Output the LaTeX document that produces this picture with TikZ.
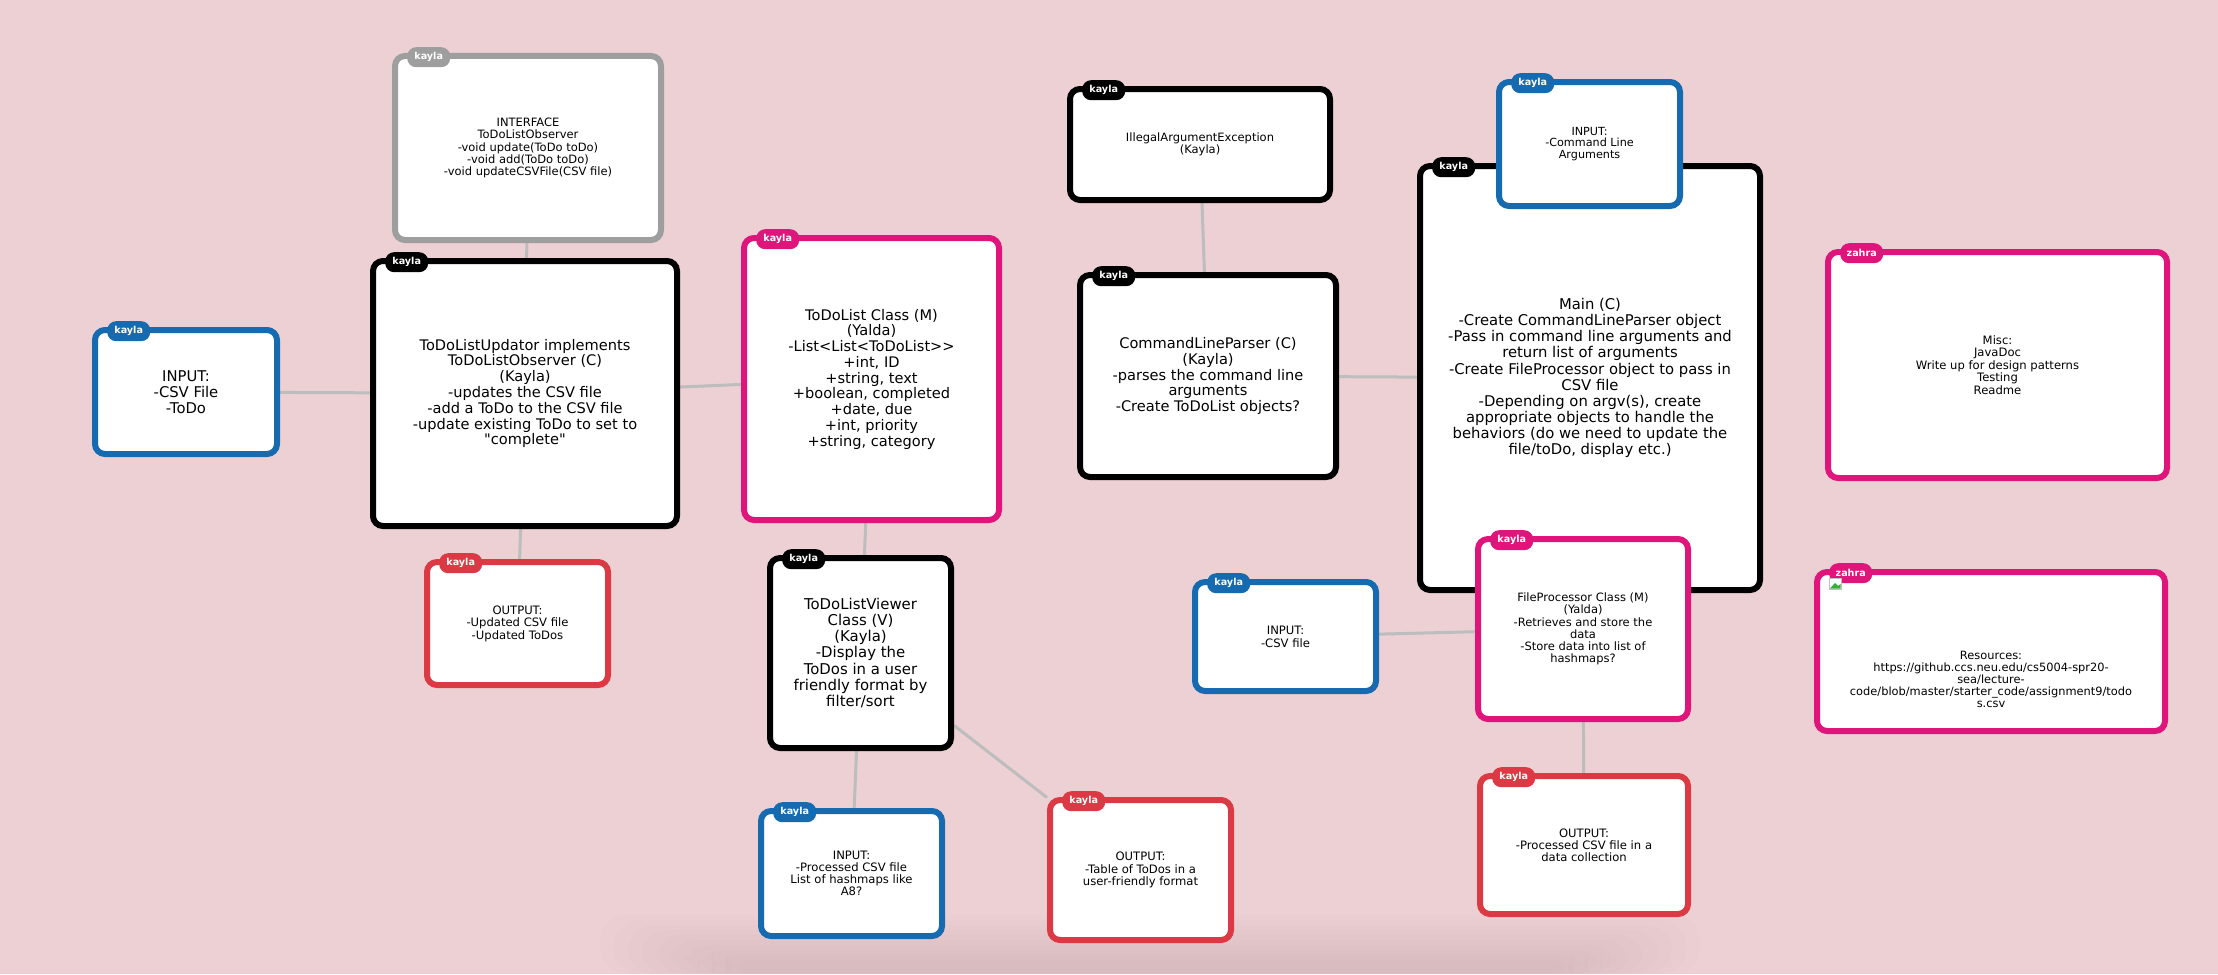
\documentclass[tikz,border=0pt]{standalone}
\usepackage{fontspec}
\newfontfamily\dv{DejaVu Sans}
\usetikzlibrary{backgrounds}
\definecolor{bgc}{HTML}{EDD0D3}
\definecolor{cblue}{HTML}{166AB0}
\definecolor{cpink}{HTML}{E0157B}
\definecolor{cred}{HTML}{DB3A44}
\definecolor{cgray}{HTML}{9E9E9E}
\definecolor{conncol}{HTML}{BDBDBD}
\pgfdeclarelayer{bglayer}
\pgfsetlayers{bglayer,main}
\tikzset{
  card/.style={draw, line width=6pt, fill=white, rounded corners=10pt, align=center,
    inner sep=3pt, text=black},
  tag/.style={anchor=north west, minimum width=43pt, minimum height=20pt, inner sep=0pt,
    rounded corners=9pt, text=white, font=\dv\bfseries\fontsize{9.6}{11}\selectfont},
  conn/.style={draw=conncol, line width=3pt}
}
\newcommand\card[9]{%
  \pgfmathsetmacro\cdw{#5-#3-6}\pgfmathsetmacro\cdh{#6-#4-6}%
  \pgfmathsetmacro\cdx{(#3+#5)/2}\pgfmathsetmacro\cdy{(#4+#6)/2}%
  \pgfmathsetmacro\cdtx{#3+15}\pgfmathsetmacro\cdty{#4-6}%
  \node[card, draw=#2, font={\dv\fontsize#7\selectfont}, minimum width=\cdw pt, minimum height=\cdh pt] (#1) at (\cdx,\cdy) {#8};
  \node[tag, fill=#2] (#1-tag) at (\cdtx,\cdty) {#9};
}
\begin{document}
\begin{tikzpicture}[x=1pt,y=-1pt]
\useasboundingbox (0,0) rectangle (2218,974);

\card{in1}{cblue}{92}{327}{280}{457}{{14.8}{16}}{INPUT:\\-CSV File\\-ToDo}{kayla}
\card{iface}{cgray}{392}{53}{664}{243}{{11.5}{12.3}}{INTERFACE\\ToDoListObserver\\-void update(ToDo toDo)\\-void add(ToDo toDo)\\-void updateCSVFile(CSV file)}{kayla}
\card{upd}{black}{370}{258}{680}{529}{{14.6}{15.8}}{ToDoListUpdator implements\\ToDoListObserver (C)\\(Kayla)\\-updates the CSV file\\-add a ToDo to the CSV file\\-update existing ToDo to set to\\"complete"}{kayla}
\card{out1}{cred}{424}{559}{611}{688}{{11.6}{12.5}}{OUTPUT:\\-Updated CSV file\\-Updated ToDos}{kayla}
\card{tdl}{cpink}{741}{235}{1002}{523}{{14.6}{15.75}}{ToDoList Class (M)\\(Yalda)\\-List<List<ToDoList>>\\+int, ID\\+string, text\\+boolean, completed\\+date, due\\+int, priority\\+string, category}{kayla}
\card{view}{black}{767}{555}{954}{751}{{14.9}{16.1}}{ToDoListViewer\\Class (V)\\(Kayla)\\-Display the\\ToDos in a user\\friendly format by\\filter/sort}{kayla}
\card{inproc}{cblue}{758}{808}{945}{939}{{11.6}{12.2}}{INPUT:\\-Processed CSV file\\List of hashmaps like\\A8?}{kayla}
\card{outtab}{cred}{1047}{797}{1234}{943}{{11.6}{12.5}}{OUTPUT:\\-Table of ToDos in a\\user-friendly format}{kayla}
\card{illegal}{black}{1067}{86}{1333}{203}{{11.5}{12}}{IllegalArgumentException\\(Kayla)}{kayla}
\card{clp}{black}{1077}{272}{1339}{480}{{14.6}{15.7}}{CommandLineParser (C)\\(Kayla)\\-parses the command line\\arguments\\-Create ToDoList objects?}{kayla}
\card{main}{black}{1417}{163}{1763}{593}{{14.8}{16.1}}{Main (C)\\-Create CommandLineParser object\\-Pass in command line arguments and\\return list of arguments\\-Create FileProcessor object to pass in\\CSV file\\-Depending on argv(s), create\\appropriate objects to handle the\\behaviors (do we need to update the\\file/toDo, display etc.)}{kayla}
\card{incmd}{cblue}{1496}{79}{1683}{209}{{11.2}{11.7}}{INPUT:\\-Command Line\\Arguments}{kayla}
\card{fproc}{cpink}{1475}{536}{1691}{722}{{11.5}{12.2}}{FileProcessor Class (M)\\(Yalda)\\-Retrieves and store the\\data\\-Store data into list of\\hashmaps?}{kayla}
\card{incsv}{cblue}{1192}{579}{1379}{694}{{11.6}{12.7}}{INPUT:\\-CSV file}{kayla}
\card{outproc}{cred}{1477}{773}{1691}{917}{{11.6}{12.2}}{OUTPUT:\\-Processed CSV file in a\\data collection}{kayla}
\card{misc}{cpink}{1825}{249}{2170}{481}{{11.6}{12.4}}{Misc:\\JavaDoc\\Write up for design patterns\\Testing\\Readme}{zahra}
\card{res}{cpink}{1814}{569}{2168}{734}{{11.4}{12}}{\rule{0pt}{64pt}Resources:\\https://github.ccs.neu.edu/cs5004-spr20-\\sea/lecture-\\code/blob/master/starter\_code/assignment9/todo\\s.csv}{zahra}

% broken image icon in Resources card
\draw[black!25, line width=0.8pt, fill=white] (1829,578) rectangle (1841,589);
\fill[green!60!black!80] (1830,588.5) -- (1835,583) -- (1838,586) -- (1840.5,584) -- (1840.5,588.5) -- cycle;

\begin{pgfonlayer}{bglayer}
  \fill[bgc] (0,0) rectangle (2218,974);
  \foreach \i in {0,...,9}
    \fill[black, opacity=0.006, rounded corners=25pt] ({600+\i*14},{915+\i*5}) rectangle ({1700-\i*14},974);
  \draw[conn] (in1) -- (upd);
  \draw[conn] (iface) -- (upd);
  \draw[conn] (upd) -- (out1);
  \draw[conn] (upd) -- (tdl);
  \draw[conn] (tdl) -- (view);
  \draw[conn] (view) -- (inproc);
  \draw[conn] (view) -- (outtab);
  \draw[conn] (illegal) -- (clp);
  \draw[conn] (clp) -- (main);
  \draw[conn] (incsv) -- (fproc);
  \draw[conn] (fproc) -- (outproc);
\end{pgfonlayer}
\end{tikzpicture}
\end{document}
